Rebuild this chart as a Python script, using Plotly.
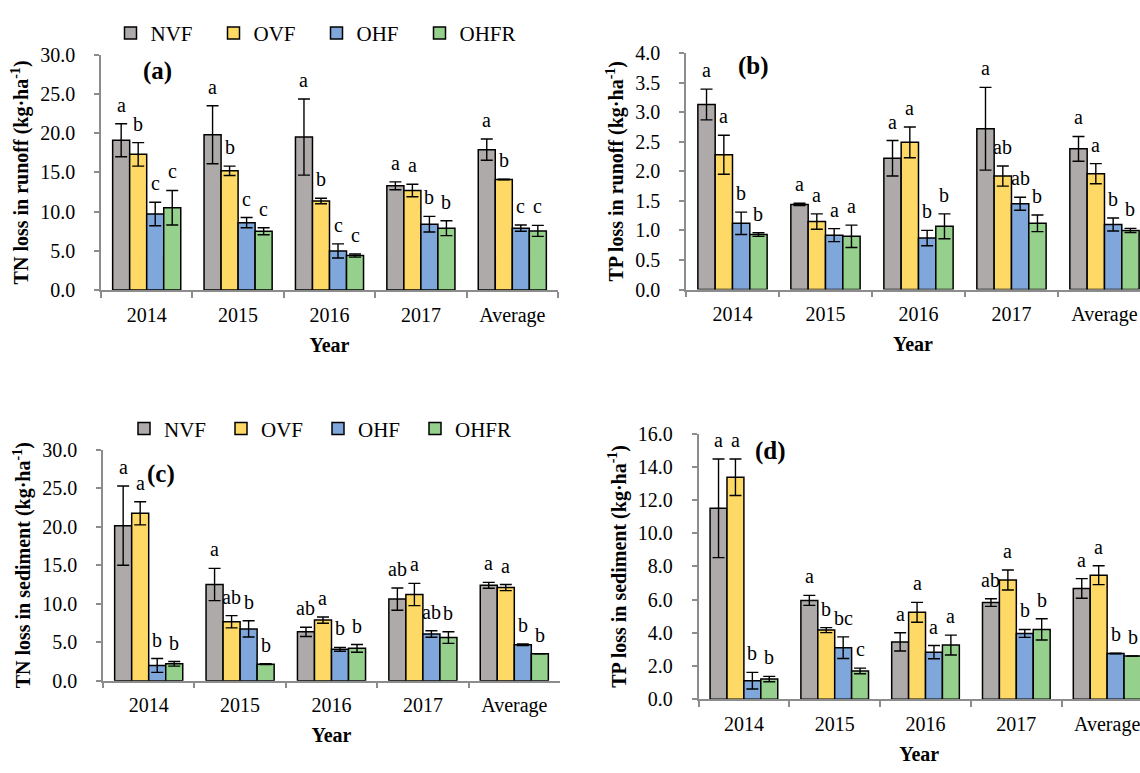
import plotly.graph_objects as go

W, H = 1140, 773
FONT = "Liberation Serif"

years = ["2014", "2015", "2016", "2017", "Average"]
series = ["NVF", "OVF", "OHF", "OHFR"]
colors = ["#AEAAAA", "#FFD966", "#7FA7DB", "#95D08D"]

# (a) TN loss in runoff
tn_run_nvf = [19.1, 19.8, 19.5, 13.3, 17.9]
tn_run_ovf = [17.3, 15.2, 11.35, 12.7, 14.1]
tn_run_ohf = [9.7, 8.6, 5.0, 8.4, 7.9]
tn_run_ohfr = [10.5, 7.5, 4.4, 7.9, 7.55]
tn_run_nvf_err = [2.1, 3.7, 4.85, 0.5, 1.35]
tn_run_ovf_err = [1.5, 0.6, 0.35, 0.8, 0.05]
tn_run_ohf_err = [1.5, 0.65, 0.9, 1.0, 0.4]
tn_run_ohfr_err = [2.2, 0.45, 0.2, 0.95, 0.7]
tn_run_nvf_sig = ["a", "a", "a", "a", "a"]
tn_run_ovf_sig = ["b", "b", "b", "a", "b"]
tn_run_ohf_sig = ["c", "c", "c", "b", "c"]
tn_run_ohfr_sig = ["c", "c", "c", "b", "c"]

# (b) TP loss in runoff
tp_run_nvf = [3.13, 1.44, 2.22, 2.72, 2.38]
tp_run_ovf = [2.28, 1.15, 2.49, 1.92, 1.96]
tp_run_ohf = [1.12, 0.92, 0.87, 1.45, 1.10]
tp_run_ohfr = [0.93, 0.90, 1.07, 1.12, 1.00]
tp_run_nvf_err = [0.26, 0.02, 0.30, 0.70, 0.21]
tp_run_ovf_err = [0.33, 0.13, 0.26, 0.17, 0.17]
tp_run_ohf_err = [0.19, 0.11, 0.13, 0.11, 0.11]
tp_run_ohfr_err = [0.03, 0.19, 0.21, 0.14, 0.035]
tp_run_nvf_sig = ["a", "a", "a", "a", "a"]
tp_run_ovf_sig = ["a", "a", "a", "ab", "a"]
tp_run_ohf_sig = ["b", "a", "b", "ab", "b"]
tp_run_ohfr_sig = ["b", "a", "b", "b", "b"]

# (c) TN loss in sediment
tn_sed_nvf = [20.15, 12.5, 6.35, 10.6, 12.4]
tn_sed_ovf = [21.75, 7.66, 7.87, 11.2, 12.1]
tn_sed_ohf = [1.98, 6.73, 4.08, 6.06, 4.67]
tn_sed_ohfr = [2.19, 2.15, 4.2, 5.6, 3.5]
tn_sed_nvf_err = [5.15, 2.1, 0.6, 1.45, 0.38]
tn_sed_ovf_err = [1.5, 0.8, 0.4, 1.45, 0.4]
tn_sed_ohf_err = [0.9, 1.05, 0.25, 0.42, 0.1]
tn_sed_ohfr_err = [0.3, 0.05, 0.5, 0.75, 0.0]
tn_sed_nvf_sig = ["a", "a", "ab", "ab", "a"]
tn_sed_ovf_sig = ["a", "ab", "a", "a", "a"]
tn_sed_ohf_sig = ["b", "b", "b", "ab", "b"]
tn_sed_ohfr_sig = ["b", "b", "b", "b", "b"]

# (d) TP loss in sediment
tp_sed_nvf = [11.5, 5.95, 3.45, 5.82, 6.67]
tp_sed_ovf = [13.37, 4.16, 5.23, 7.18, 7.47]
tp_sed_ohf = [1.11, 3.1, 2.83, 3.96, 2.75]
tp_sed_ohfr = [1.21, 1.7, 3.26, 4.2, 2.6]
tp_sed_nvf_err = [2.97, 0.3, 0.55, 0.23, 0.59]
tp_sed_ovf_err = [1.1, 0.15, 0.6, 0.6, 0.57]
tp_sed_ohf_err = [0.5, 0.65, 0.4, 0.24, 0.02]
tp_sed_ohfr_err = [0.16, 0.17, 0.6, 0.64, 0.0]
tp_sed_nvf_sig = ["a", "a", "a", "ab", "a"]
tp_sed_ovf_sig = ["a", "b", "a", "a", "a"]
tp_sed_ohf_sig = ["b", "bc", "a", "b", "b"]
tp_sed_ohfr_sig = ["b", "c", "a", "b", "b"]

panels = [
    dict(vals=[tn_run_nvf, tn_run_ovf, tn_run_ohf, tn_run_ohfr],
         errs=[tn_run_nvf_err, tn_run_ovf_err, tn_run_ohf_err, tn_run_ohfr_err],
         sigs=[tn_run_nvf_sig, tn_run_ovf_sig, tn_run_ohf_sig, tn_run_ohfr_sig],
         ytitle="TN loss in runoff (kg·ha<sup>-1</sup>)", label="(a)",
         yr=[0, 30], dt=5, px=(101, 558), py=(45, 287.3), xr=[-0.5, 4.5],
         lab=(157, 62), legend="legend"),
    dict(vals=[tp_run_nvf, tp_run_ovf, tp_run_ohf, tp_run_ohfr],
         errs=[tp_run_nvf_err, tp_run_ovf_err, tp_run_ohf_err, tp_run_ohfr_err],
         sigs=[tp_run_nvf_sig, tp_run_ovf_sig, tp_run_ohf_sig, tp_run_ohfr_sig],
         ytitle="TP loss in runoff (kg·ha<sup>-1</sup>)", label="(b)",
         yr=[0, 4], dt=0.5, px=(686, 1140), py=(43.3, 286.7), xr=[-0.5, 4.382],
         lab=(754, 57), legend=None),
    dict(vals=[tn_sed_nvf, tn_sed_ovf, tn_sed_ohf, tn_sed_ohfr],
         errs=[tn_sed_nvf_err, tn_sed_ovf_err, tn_sed_ohf_err, tn_sed_ohfr_err],
         sigs=[tn_sed_nvf_sig, tn_sed_ovf_sig, tn_sed_ohf_sig, tn_sed_ohfr_sig],
         ytitle="TN loss in sediment (kg·ha<sup>-1</sup>)", label="(c)",
         yr=[0, 30], dt=5, px=(103, 560), py=(451.7, 689.3), xr=[-0.5, 4.5],
         lab=(160.6, 476.7), legend="legend2"),
    dict(vals=[tp_sed_nvf, tp_sed_ovf, tp_sed_ohf, tp_sed_ohfr],
         errs=[tp_sed_nvf_err, tp_sed_ovf_err, tp_sed_ohf_err, tp_sed_ohfr_err],
         sigs=[tp_sed_nvf_sig, tp_sed_ovf_sig, tp_sed_ohf_sig, tp_sed_ohfr_sig],
         ytitle="TP loss in sediment (kg·ha<sup>-1</sup>)", label="(d)",
         yr=[0, 16], dt=2, px=(698.5, 1140), py=(435, 708.3), xr=[-0.5, 4.362],
         lab=(770.7, 453.3), legend=None),
]

BARGAP = 0.255
bw = (1 - BARGAP) / len(series)
offsets = [-(1 - BARGAP) / 2 + (k + 0.5) * bw for k in range(len(series))]

fig = go.Figure()
annotations = []
layout_axes = {}
AXC = "#8C8C8C"

for p_i, p in enumerate(panels):
    n = "" if p_i == 0 else str(p_i + 1)
    xa, ya = "x" + n, "y" + n
    for s_i, s in enumerate(series):
        tr = dict(
            x=years, y=p["vals"][s_i], name=s,
            xaxis=xa, yaxis=ya,
            marker=dict(color=colors[s_i], line=dict(color="black", width=1.5)),
            error_y=dict(type="data", array=p["errs"][s_i], color="black",
                         thickness=1.4, width=6),
            showlegend=p["legend"] is not None,
            hoverinfo="x+y+name",
        )
        if p["legend"] is not None:
            tr["legend"] = p["legend"]
        fig.add_trace(go.Bar(**tr))
        for c_i in range(len(years)):
            annotations.append(dict(
                x=c_i + offsets[s_i],
                y=p["vals"][s_i][c_i] + p["errs"][s_i][c_i],
                xref=xa, yref=ya, text=p["sigs"][s_i][c_i],
                showarrow=False, xanchor="center", yanchor="bottom", yshift=6,
                font=dict(family=FONT, size=20, color="black")))
    annotations.append(dict(
        x=p["lab"][0] / W, y=1 - p["lab"][1] / H, xref="paper", yref="paper",
        xanchor="center", yanchor="middle",
        text="<b>" + p["label"] + "</b>", showarrow=False,
        font=dict(family=FONT, size=25, color="black")))
    layout_axes["xaxis" + n] = dict(
        domain=[p["px"][0] / W, p["px"][1] / W], anchor=ya,
        type="category", range=p["xr"],
        showline=True, linecolor=AXC, linewidth=1.5,
        ticks="outside", tickson="boundaries", ticklen=6, tickcolor=AXC,
        tickwidth=1.5, ticklabelstandoff=6,
        tickfont=dict(family=FONT, size=20, color="black"),
        title=dict(text="Year", standoff=12,
                   font=dict(family=FONT, size=20, color="black", weight="bold")),
        showgrid=False, zeroline=False, fixedrange=True)
    layout_axes["yaxis" + n] = dict(
        domain=[1 - p["py"][1] / H, 1 - p["py"][0] / H], anchor=xa,
        range=p["yr"], dtick=p["dt"], tick0=0, tickformat=".1f",
        showline=True, linecolor=AXC, linewidth=1.5,
        ticks="outside", ticklen=5, tickcolor=AXC, tickwidth=1.5,
        ticklabelstandoff=15,
        tickfont=dict(family=FONT, size=20, color="black"),
        title=dict(text=p["ytitle"], standoff=6,
                   font=dict(family=FONT, size=20, color="black", weight="bold")),
        showgrid=False, zeroline=False, fixedrange=True)

fig.update_layout(
    width=W, height=H,
    margin=dict(l=0, r=0, t=0, b=0),
    paper_bgcolor="white", plot_bgcolor="white",
    barmode="group", bargap=BARGAP, bargroupgap=0,
    annotations=annotations,
    legend=dict(orientation="h", x=(129.5 - 19) / W, y=1 - 23 / H,
                xanchor="left", yanchor="middle",
                entrywidth=58, entrywidthmode="pixels",
                font=dict(family=FONT, size=21, color="black"),
                bgcolor="rgba(0,0,0,0)"),
    legend2=dict(orientation="h", x=(142 - 18) / W, y=1 - 430 / H,
                 xanchor="left", yanchor="middle",
                 entrywidth=52, entrywidthmode="pixels",
                 font=dict(family=FONT, size=21, color="black"),
                 bgcolor="rgba(0,0,0,0)"),
    **layout_axes,
)

fig.write_html(
    "out.html",
    config={"displayModeBar": False},
    post_script="document.body.style.margin='0px';"
                "document.body.style.overflow='hidden';",
)
